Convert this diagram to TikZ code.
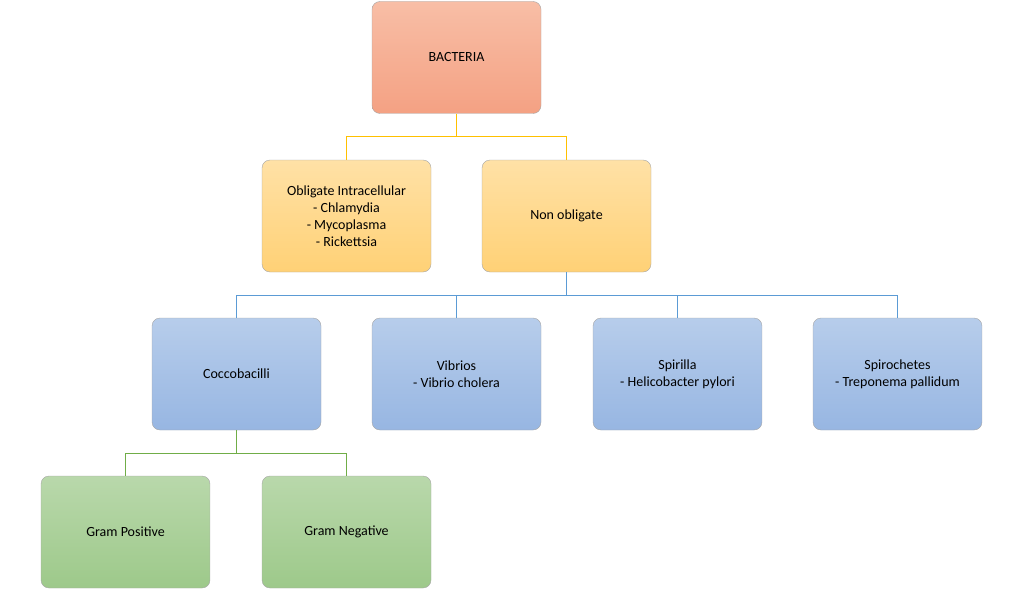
\documentclass[tikz,border=0pt]{standalone}
\usepackage{fontspec}
\setmainfont{Carlito}
\definecolor{redtop}{HTML}{F8BEA6}
\definecolor{redbot}{HTML}{F4A183}
\definecolor{orgtop}{HTML}{FFE1A6}
\definecolor{orgbot}{HTML}{FFD176}
\definecolor{bluetop}{HTML}{B7CDEB}
\definecolor{bluebot}{HTML}{97B6E2}
\definecolor{grntop}{HTML}{B9D8AB}
\definecolor{grnbot}{HTML}{9DC98A}
\definecolor{goldline}{HTML}{FFC000}
\definecolor{blueline}{HTML}{5B9BD5}
\definecolor{grnline}{HTML}{70AD47}
\tikzset{
  box/.style={rectangle, draw=gray!70, rounded corners=8pt, minimum width=169pt, minimum height=112pt, align=center, font=\fontsize{14}{17}\selectfont},
  redbox/.style={box, top color=redtop, bottom color=redbot},
  orgbox/.style={box, top color=orgtop, bottom color=orgbot},
  bluebox/.style={box, top color=bluetop, bottom color=bluebot},
  grnbox/.style={box, top color=grntop, bottom color=grnbot},
  link/.style={draw, line width=1pt}
}
\begin{document}
\begin{tikzpicture}[x=1pt,y=-1pt]
\useasboundingbox (0,0) rectangle (1024,591);

% boxes
\node [redbox] (bacteria) at (456.5,57.5) {BACTERIA};
\node [orgbox] (obligate) at (346.5,216) {Obligate Intracellular\\- Chlamydia\\- Mycoplasma\\- Rickettsia};
\node [orgbox] (nonobl) at (566.5,216) {Non obligate};
\node [bluebox] (cocco) at (236.5,374) {Coccobacilli};
\node [bluebox] (vibrios) at (456.5,374) {Vibrios\\- Vibrio cholera};
\node [bluebox] (spirilla) at (677.5,374) {Spirilla\\- Helicobacter pylori};
\node [bluebox] (spiro) at (897.5,374) {Spirochetes\\- Treponema pallidum};
\node [grnbox] (grampos) at (125.5,532) {Gram Positive};
\node [grnbox] (gramneg) at (346.5,532) {Gram Negative};

% connectors
\foreach \c in {obligate,nonobl}
  \draw [link, goldline] (bacteria.south) -- ++(0,23) -| (\c.north);
\foreach \c in {cocco,vibrios,spirilla,spiro}
  \draw [link, blueline] (nonobl.south) -- ++(0,23) -| (\c.north);
\foreach \c in {grampos,gramneg}
  \draw [link, grnline] (cocco.south) -- ++(0,23) -| (\c.north);

\end{tikzpicture}
\end{document}
